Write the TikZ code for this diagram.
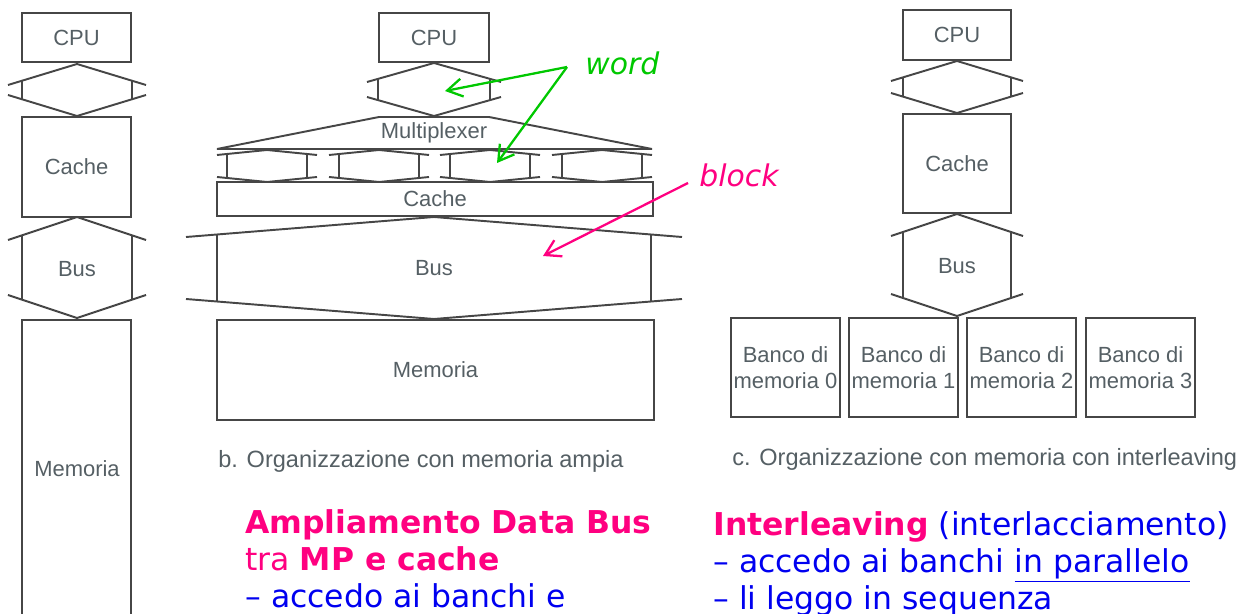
\documentclass[tikz,border=0pt]{standalone}
\usepackage{fontspec}
\setmainfont{DejaVu Sans}
\newfontfamily\figfont{Liberation Sans}
\usetikzlibrary{arrows.meta}

\definecolor{figline}{RGB}{70,70,70}
\definecolor{figtext}{RGB}{85,95,100}
\definecolor{slidepink}{RGB}{255,0,128}
\definecolor{slideblue}{RGB}{0,0,240}
\definecolor{wordgreen}{RGB}{0,200,0}

\tikzset{
  fig/.style={draw=figline, line width=1.1pt},
  box/.style={fig, rectangle, inner sep=0pt},
  lbl/.style={text=figtext, font=\figfont\fontsize{12.5}{14.5}\selectfont},
  caption/.style={text=figtext, inner sep=0pt, font=\figfont\fontsize{13.4}{15}\selectfont, anchor=base west},
  slide/.style={anchor=base west, inner sep=0pt, font=\fontsize{17.9}{21}\selectfont},
  note/.style={anchor=base west, inner sep=0pt, font=\itshape\fontsize{17}{20}\selectfont},
  pointer/.style={line width=1.3pt, -{Straight Barb[length=3mm,width=3.6mm]}},
}

% double headed bus: centre x, top, bottom, half shaft, half ear, head depth
\newcommand{\bushex}[6]{%
  \draw[fig] ({#1-#5},{#2+#6}) -- (#1,#2) -- ({#1+#5},{#2+#6});
  \draw[fig] ({#1-#5},{#3-#6}) -- (#1,#3) -- ({#1+#5},{#3-#6});
  \draw[fig] ({#1-#4},{#2+#6*#4/#5}) -- ({#1-#4},{#3-#6*#4/#5});
  \draw[fig] ({#1+#4},{#2+#6*#4/#5}) -- ({#1+#4},{#3-#6*#4/#5});
}

\begin{document}
\begin{tikzpicture}[x=0.02cm, y=-0.02cm]
\useasboundingbox (0,0) rectangle (1236,614);

%COLUMN A
\node[box, lbl, minimum width=2.18cm, minimum height=0.98cm] (cpuA) at (76.5,37.5) {CPU};
\bushex{77}{64}{116}{55}{69}{21}
\node[box, lbl, minimum width=2.18cm, minimum height=2cm] (cacheA) at (76.5,167) {Cache};
\bushex{77}{217}{318}{55}{69}{23}
\node[lbl] (busA) at (77,269) {Bus};
\node[box, minimum width=2.18cm, minimum height=7.6cm] (memA) at (76.5,510) {};
\node[lbl] (memAlbl) at (77,469) {Memoria};

%COLUMN B
\node[box, lbl, minimum width=2.2cm, minimum height=0.98cm] (cpuB) at (434,37.5) {CPU};
\bushex{434}{63}{116}{56}{67}{19}
\draw[fig] (379,117) -- (489,117) -- (652,149) -- (217,149) -- cycle;
\node[lbl] (mux) at (434,133) {Multiplexer};
\foreach \cx in {267,379,490,602} {\bushex{\cx}{150}{182}{40}{50}{5}}
\node[box, lbl, minimum width=8.72cm, minimum height=0.68cm] (cacheB) at (435,199) {Cache};
\bushex{434}{217}{319}{217}{248}{20}
\node[lbl] (busB) at (434,268) {Bus};
\node[box, lbl, minimum width=8.74cm, minimum height=2cm] (memB) at (435.5,370) {Memoria};
\node[caption] (capB) at (218,467) {b. Organizzazione con memoria ampia};

%COLUMN C
\node[box, lbl, minimum width=2.16cm, minimum height=1cm] (cpuC) at (957,35) {CPU};
\bushex{957}{61}{113}{54}{66}{20}
\node[box, lbl, minimum width=2.16cm, minimum height=1.98cm] (cacheC) at (957,163.5) {Cache};
\bushex{957}{214}{316}{54}{66}{22}
\node[lbl] (busC) at (957,266) {Bus};
\foreach \cx [count=\i from 0] in {785.5,903.5,1021.5,1140.5}
  \node[box, lbl, align=center, minimum width=2.18cm, minimum height=1.98cm] (bank\i) at (\cx,367.5) {Banco di\\memoria \i};
\node[caption] (capC) at (732,465) {c. Organizzazione con memoria con interleaving};

%NOTES
\node[note, text=wordgreen] (word) at (585,75) {word};
\coordinate (wordj) at (567,67);
\coordinate (wordt1) at (445,91);
\coordinate (wordt2) at (497,163);
\draw[pointer, wordgreen] (wordj) -- (wordt1);
\draw[pointer, wordgreen] (wordj) -- (wordt2);

\node[note, text=slidepink] (block) at (699,187) {block};
\coordinate (blocks) at (688,183);
\coordinate (blockt) at (543,256);
\draw[pointer, slidepink] (blocks) -- (blockt);

%SLIDE TEXT
\node[slide, text=slidepink] (wideA) at (245,533) {\textbf{Ampliamento Data Bus}};
\node[slide, text=slidepink] (wideB) at (245,570) {tra \textbf{MP e cache}};
\node[slide, text=slideblue] (wideC) at (245,607) {– accedo ai banchi e};

\node[slide, text=slideblue] (ilvA) at (713,535) {\textcolor{slidepink}{\textbf{Interleaving}} (interlacciamento)};
\node[slide, text=slideblue] (ilvB) at (713,572) {– accedo ai banchi \underline{in parallelo}};
\node[slide, text=slideblue] (ilvC) at (713,609) {– li leggo in sequenza};

\end{tikzpicture}
\end{document}
